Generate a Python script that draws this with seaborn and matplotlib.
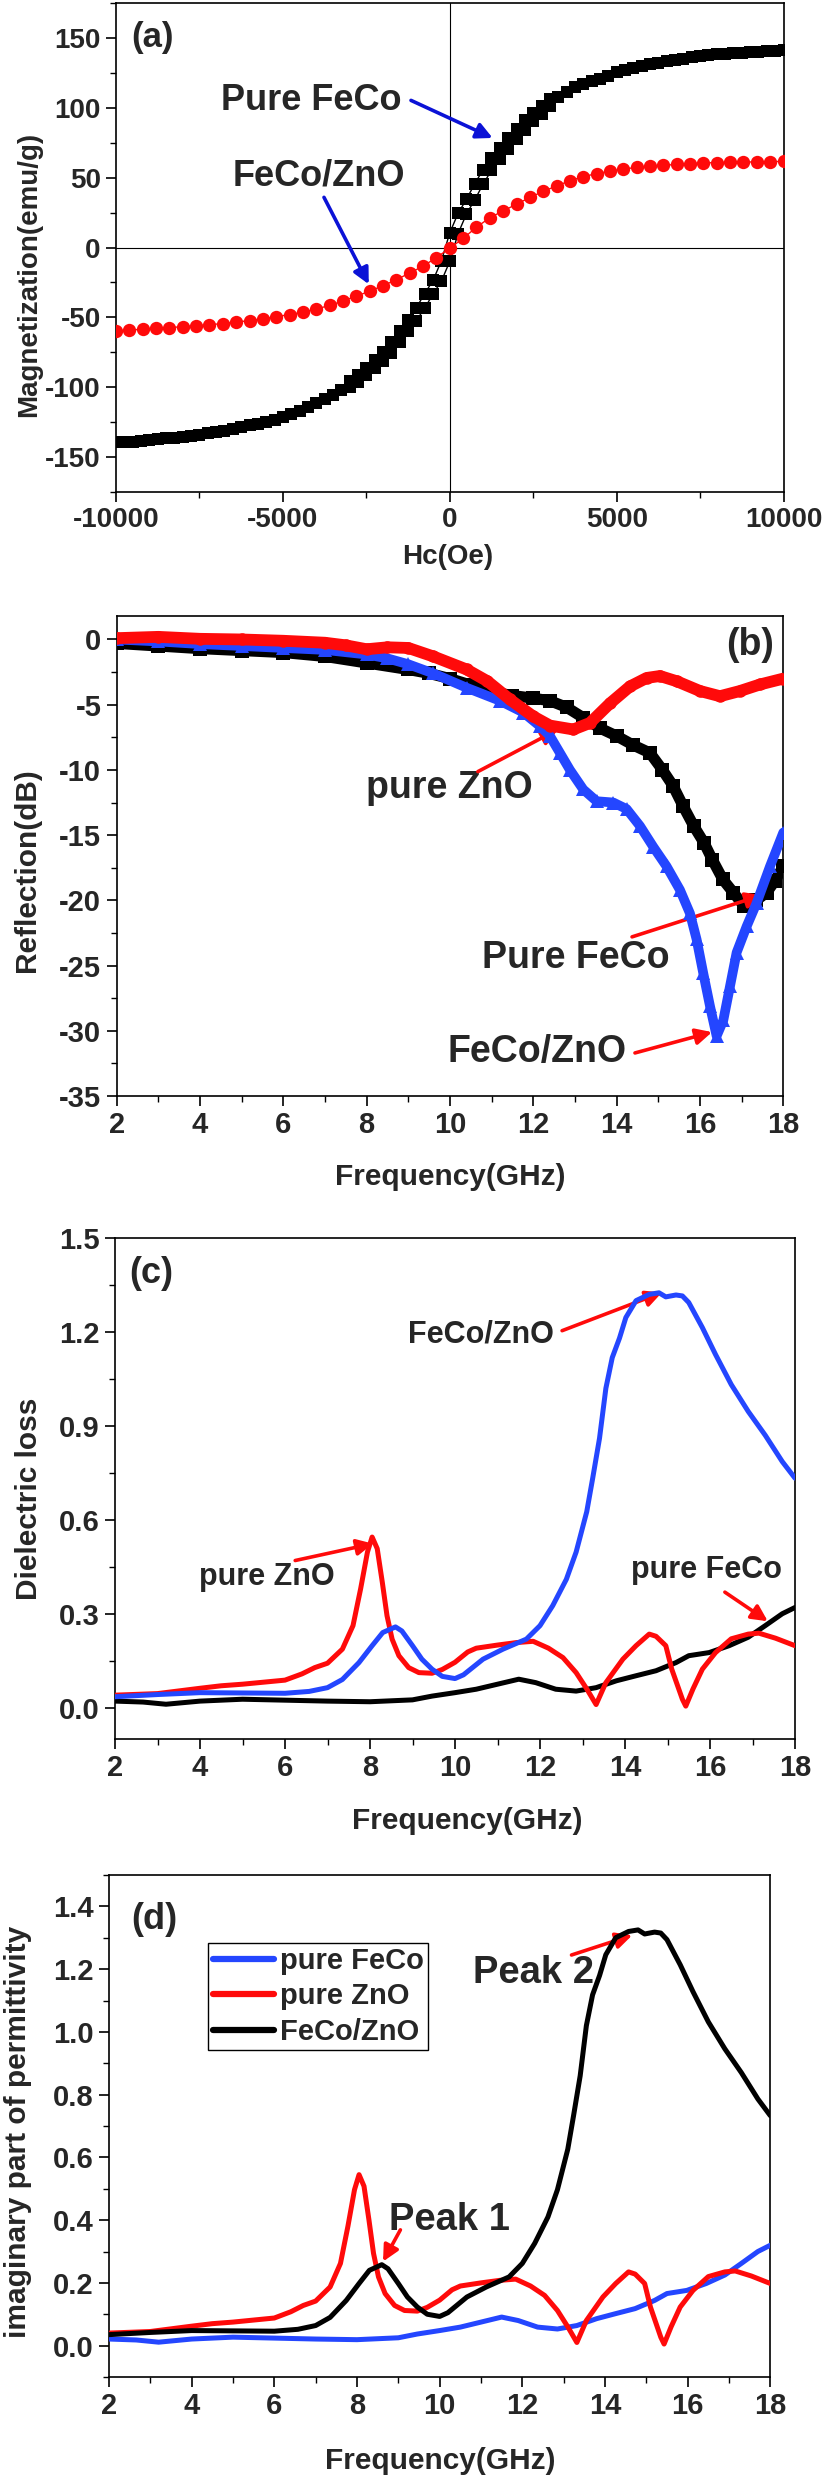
import numpy as np
import pandas as pd
import matplotlib
matplotlib.use("Agg")
import matplotlib.pyplot as plt
import seaborn as sns
from matplotlib.ticker import MultipleLocator, FormatStrFormatter

# ---------------------------------------------------------------- data
# (a) hysteresis loops
H_feco = [-10000, -9750, -9500, -9250, -9000, -8750, -8500, -8250, -8000, -7750,
          -7500, -7250, -7000, -6750, -6500, -6250, -6000, -5750, -5500, -5250,
          -5000, -4750, -4500, -4250, -4000, -3750, -3500, -3250,
          -3000, -2750, -2500, -2250, -2000, -1750, -1500, -1250, -1000, -750,
          -500, -250, 0, 250, 500, 750, 1000, 1250, 1500, 1750, 2000, 2250,
          2500, 2750, 3000,
          3250, 3500, 3750, 4000, 4250, 4500, 4750, 5000, 5250, 5500, 5750,
          6000, 6250, 6500, 6750, 7000, 7250, 7500, 7750, 8000, 8250, 8500,
          8750, 9000, 9250, 9500, 9750, 10000]
M_feco_far_neg = [-139.5, -139.2, -138.9, -138.5, -138.0, -137.4, -136.7, -136.1,
                  -135.5, -134.8, -134.0, -133.1, -132.2, -131.0, -129.9, -128.7,
                  -127.4, -126.0, -124.8, -123.2, -121.3, -119.4, -117.0, -114.3,
                  -111.5, -108.4, -105.5, -102.2]
M_feco_far_pos = [107.5, 111.5, 114.6, 117.0, 119.0, 120.9, 122.9, 125.3, 126.9,
                  128.2, 129.7, 131.2, 132.2, 133.2, 134.3, 135.2, 136.0, 136.8,
                  137.6, 138.2, 138.7, 139.1, 139.5, 139.8, 140.2, 140.5, 140.8,
                  141.1]
M_feco_mid_desc = [-95.8, -91.0, -86.0, -80.8, -75.0, -67.5, -59.5, -52.0, -43.0,
                   -33.0, -23.5, -9.5, 10.4, 24.5, 34.5, 45.7, 55.7, 63.9, 71.0,
                   78.1, 84.6, 90.9, 96.0, 101.3, 106.0]
M_feco_mid_asc = [-100.2, -96.0, -91.2, -86.2, -81.0, -75.3, -67.8, -59.8, -52.3,
                  -43.3, -33.3, -24.0, -10.0, 10.0, 24.0, 34.2, 45.3, 55.3, 63.6,
                  70.7, 77.8, 84.4, 90.7, 95.8, 101.1]

H_comp = [-10000, -9600, -9200, -8800, -8400, -8000, -7600, -7200, -6800, -6400,
          -6000, -5600, -5200, -4800, -4400, -4000, -3600, -3200, -2800, -2400,
          -2000, -1600, -1200, -800, -400, 0, 400, 800, 1200, 1600, 2000, 2400,
          2800, 3200, 3600, 4000, 4400, 4800, 5200, 5600, 6000, 6400, 6800, 7200,
          7600, 8000, 8400, 8800, 9200, 9600, 10000]
M_comp = [-59.6, -59.1, -58.5, -57.9, -57.3, -56.7, -56.0, -55.3, -54.4, -53.4,
          -52.3, -51.0, -49.5, -48.0, -46.2, -44.0, -41.5, -38.3, -34.8, -31.3,
          -27.3, -23.1, -18.2, -13.4, -7.2, -0.5, 6.5, 14.5, 21.3, 26.2, 31.0,
          35.8, 40.2, 44.0, 47.8, 50.7, 52.9, 54.7, 56.2, 57.3, 58.1, 58.8, 59.5,
          60.1, 60.5, 60.8, 60.9, 61.1, 61.3, 61.5, 61.6]

# (b) reflection loss
f_b_feco = [2, 3, 4, 5, 6, 7, 8, 9, 9.5, 10, 10.5, 11, 11.5, 12, 12.4, 12.8, 13.2,
            13.6, 14.0, 14.4, 14.8, 15.1, 15.35, 15.6, 15.85, 16.1, 16.3, 16.55,
            16.8, 17.05, 17.35, 17.6, 17.8, 18.0]
R_b_feco = [-0.3, -0.5, -0.7, -0.85, -1.0, -1.3, -1.8, -2.3, -2.6, -3.0, -3.5,
            -4.0, -4.3, -4.5, -4.7, -5.2, -6.0, -6.8, -7.4, -8.1, -8.7, -10.0,
            -11.2, -12.8, -14.3, -15.6, -16.9, -18.4, -19.4, -20.4, -20.0, -19.4,
            -18.5, -17.4]
f_b_comp = [2, 3, 4, 5, 6, 7, 8, 8.5, 9, 9.6, 10.4, 11.2, 11.76, 12.16, 12.4,
            12.64, 12.88, 13.2, 13.52, 13.92, 14.24, 14.56, 14.88, 15.2, 15.52,
            15.76, 15.92, 16.08, 16.24, 16.4, 16.56, 16.72, 16.88, 17.12, 17.36,
            17.68, 18.0]
R_b_comp = [0.0, -0.15, -0.35, -0.5, -0.65, -0.8, -1.15, -1.45, -1.9, -2.6, -3.7,
            -4.7, -5.6, -6.65, -7.4, -8.7, -10.0, -11.5, -12.4, -12.5, -13.0,
            -14.3, -15.9, -17.4, -19.2, -21.0, -23.0, -25.6, -28.1, -30.4, -29.2,
            -26.6, -24.0, -22.0, -20.2, -17.4, -14.8]
f_b_zno = [2, 3, 4, 5, 6, 7, 7.5, 8, 8.5, 9, 9.6, 10.4, 10.9, 11.44, 12.0, 12.4,
           12.96, 13.36, 13.84, 14.32, 14.72, 15.04, 15.44, 16.0, 16.48, 16.96,
           17.44, 18.0]
R_b_zno = [0.1, 0.2, 0.05, 0.0, -0.1, -0.25, -0.45, -0.75, -0.6, -0.65, -1.3,
           -2.3, -3.2, -4.6, -5.9, -6.6, -6.9, -6.4, -4.9, -3.6, -2.95, -2.8,
           -3.2, -3.95, -4.35, -3.95, -3.45, -3.0]

# (c)/(d) imaginary permittivity (dielectric loss)
f_eps_feco = [2.0, 2.66, 3.2, 4.0, 5.0, 6.0, 7.0, 8.0, 9.0, 9.46, 10.0, 10.5, 11.0,
              11.5, 11.9, 12.37, 12.85, 13.32, 13.8, 14.26, 14.73, 15.2, 15.5,
              15.98, 16.45, 16.9, 17.3, 17.7, 18.0]
eps_feco = [0.021, 0.018, 0.011, 0.021, 0.027, 0.024, 0.021, 0.019, 0.025, 0.037,
            0.048, 0.059, 0.075, 0.091, 0.08, 0.059, 0.053, 0.064, 0.086, 0.102,
            0.118, 0.144, 0.166, 0.176, 0.198, 0.225, 0.262, 0.30, 0.32]
f_eps_zno = [2.0, 3.0, 4.0, 4.5, 5.0, 6.0, 6.4, 6.7, 7.0, 7.35, 7.6, 7.78, 7.94,
             8.05, 8.17, 8.29, 8.4, 8.52, 8.68, 8.91, 9.15, 9.46, 9.7, 10.0, 10.3,
             10.5, 11.0, 11.45, 11.84, 12.2, 12.54, 12.85, 13.1, 13.32, 13.55,
             13.95, 14.26, 14.57, 14.73, 14.96, 15.1, 15.35, 15.43, 15.6, 15.82,
             16.13, 16.5, 16.9, 17.15, 17.54, 18.0]
eps_zno = [0.04, 0.045, 0.062, 0.07, 0.075, 0.088, 0.108, 0.128, 0.142, 0.187,
           0.262, 0.38, 0.497, 0.545, 0.508, 0.40, 0.294, 0.219, 0.166, 0.128,
           0.112, 0.11, 0.122, 0.145, 0.178, 0.19, 0.2, 0.208, 0.212, 0.19, 0.16,
           0.112, 0.06, 0.01, 0.08, 0.155, 0.198, 0.235, 0.228, 0.198, 0.123,
           0.027, 0.005, 0.06, 0.123, 0.176, 0.22, 0.235, 0.238, 0.222, 0.198]
f_eps_comp = [2.0, 3.0, 4.0, 5.0, 6.0, 6.57, 7.0, 7.35, 7.74, 8.05, 8.3, 8.6, 8.75,
              9.0, 9.22, 9.46, 9.7, 10.0, 10.2, 10.66, 11.13, 11.68, 12.0, 12.3,
              12.62, 12.85, 13.1, 13.24, 13.4, 13.55, 13.7, 13.87, 14.02, 14.26,
              14.57, 14.8, 14.96, 15.2, 15.35, 15.5, 15.82, 16.13, 16.5, 16.9,
              17.3, 17.7, 18.0]
eps_comp = [0.035, 0.042, 0.048, 0.047, 0.046, 0.052, 0.064, 0.09, 0.144, 0.198,
            0.24, 0.258, 0.245, 0.198, 0.155, 0.123, 0.10, 0.093, 0.105, 0.155,
            0.187, 0.219, 0.262, 0.326, 0.41, 0.497, 0.626, 0.733, 0.86, 1.02,
            1.118, 1.18, 1.246, 1.30, 1.32, 1.325, 1.312, 1.318, 1.315, 1.294,
            1.214, 1.128, 1.032, 0.946, 0.87, 0.786, 0.733]

# ---------------------------------------------------------------- style
sns.set_theme(style="ticks")
plt.rcParams['font.family'] = ['Liberation Sans', 'DejaVu Sans']
plt.rcParams['font.weight'] = 'bold'
plt.rcParams['axes.labelweight'] = 'bold'
plt.rcParams['axes.unicode_minus'] = False

RED = '#ff0a0a'
BLUE = '#2446ff'
ABLUE = '#0b12d6'

W, Hpx = 826, 2481
fig = plt.figure(figsize=(W / 100, Hpx / 100), dpi=100)


def rect(x0, x1, y0, y1):
    return [x0 / W, 1 - y1 / Hpx, (x1 - x0) / W, (y1 - y0) / Hpx]


axA = fig.add_axes(rect(116, 783.5, 3, 492))
axB = fig.add_axes(rect(116.6, 783.3, 616, 1096))
axC = fig.add_axes(rect(115, 795, 1238, 1739))
axD = fig.add_axes(rect(109, 770.3, 1875, 2377))


def style(ax, fs):
    for s in ax.spines.values():
        s.set_visible(True)
        s.set_linewidth(1.2)
        s.set_color('black')
    ax.tick_params(which='major', direction='out', length=7, width=1.2,
                   labelsize=fs, top=False, right=False, color='black')
    ax.tick_params(which='minor', direction='out', length=4, width=1.0,
                   top=False, right=False, color='black')
    ax.tick_params(axis='y', which='major', pad=4)
    ax.tick_params(axis='x', which='major', pad=4)
    ax.grid(False)
    ax.set_facecolor('white')


def labels(ax, xl, yl, fs, xc, yc):
    ax.set_xlabel(xl, fontsize=fs, fontweight='bold')
    ax.set_ylabel(yl, fontsize=fs, fontweight='bold')
    ax.xaxis.set_label_coords(*xc)
    ax.yaxis.set_label_coords(*yc)
    ax.xaxis.label.set_va('center')
    ax.yaxis.label.set_va('center')


def arrow(ax, start, tip, color, lw=2.6, ms=24):
    ax.annotate('', xy=tip, xytext=start,
                arrowprops=dict(arrowstyle='-|>', color=color, lw=lw,
                                mutation_scale=ms, shrinkA=0, shrinkB=0))


# ---------------------------------------------------------------- (a)
M_feco_desc = M_feco_far_neg + M_feco_mid_desc + M_feco_far_pos
M_feco_asc = M_feco_far_neg + M_feco_mid_asc + M_feco_far_pos
df_desc = pd.DataFrame({'H': H_feco, 'M': M_feco_desc})
df_asc = pd.DataFrame({'H': H_feco, 'M': M_feco_asc})
df_comp = pd.DataFrame({'H': H_comp, 'M': M_comp})

axA.axhline(0, color='black', lw=0.8, zorder=0)
axA.axvline(0, color='black', lw=0.8, zorder=0)
for d in (df_desc, df_asc):
    sns.lineplot(data=d, x='H', y='M', ax=axA, color='black', lw=1.0,
                 marker='s', markersize=8.4, markeredgewidth=0,
                 estimator=None, sort=False, zorder=3)
sns.lineplot(data=df_comp, x='H', y='M', ax=axA, color=RED, lw=1.0,
             marker='o', markersize=9.6, markeredgewidth=0,
             estimator=None, sort=False, zorder=4)
axA.set_xlim(-10000, 10000)
axA.set_ylim(-175, 175)
axA.xaxis.set_major_locator(MultipleLocator(5000))
axA.xaxis.set_minor_locator(MultipleLocator(2500))
axA.yaxis.set_major_locator(MultipleLocator(50))
axA.yaxis.set_minor_locator(MultipleLocator(25))
style(axA, 20)
labels(axA, 'Hc(Oe)', 'Magnetization(emu/g)', 20, (0.497, -0.133), (-0.130, 0.444))
axA.text(-9530, 150, '(a)', fontsize=25, fontweight='bold', ha='left', va='center')
axA.text(-4139, 105.3, 'Pure FeCo', fontsize=26, fontweight='bold', ha='center', va='center')
axA.text(-3926, 51.5, 'FeCo/ZnO', fontsize=26, fontweight='bold', ha='center', va='center')
arrow(axA, (-1161, 105.3), (1284, 78.4), ABLUE)
arrow(axA, (-3768, 35.9), (-2426, -26.3), ABLUE)

# ---------------------------------------------------------------- (b)
dB_feco = pd.DataFrame({'f': f_b_feco, 'R': R_b_feco})
dB_comp = pd.DataFrame({'f': f_b_comp, 'R': R_b_comp})
dB_zno = pd.DataFrame({'f': f_b_zno, 'R': R_b_zno})
sns.lineplot(data=dB_feco, x='f', y='R', ax=axB, color='black', lw=8,
             marker='s', markersize=10, markeredgewidth=0,
             estimator=None, sort=False, zorder=3)
sns.lineplot(data=dB_comp, x='f', y='R', ax=axB, color=BLUE, lw=7,
             marker='^', markersize=10, markeredgewidth=0,
             estimator=None, sort=False, zorder=4)
sns.lineplot(data=dB_zno, x='f', y='R', ax=axB, color=RED, lw=8.5,
             marker='o', markersize=9, markeredgewidth=0,
             estimator=None, sort=False, zorder=5)
axB.set_xlim(2, 18)
axB.set_ylim(-35, 1.8)
axB.xaxis.set_major_locator(MultipleLocator(2))
axB.xaxis.set_minor_locator(MultipleLocator(1))
axB.yaxis.set_major_locator(MultipleLocator(5))
axB.yaxis.set_minor_locator(MultipleLocator(2.5))
style(axB, 21)
labels(axB, 'Frequency(GHz)', 'Reflection(dB)', 21.5, (0.5008, -0.169), (-0.135, 0.471))
axB.text(17.2, -0.46, '(b)', fontsize=27, fontweight='bold', ha='center', va='center')
axB.text(9.98, -11.36, 'pure ZnO', fontsize=27, fontweight='bold', ha='center', va='center')
axB.text(13.02, -24.4, 'Pure FeCo', fontsize=27, fontweight='bold', ha='center', va='center')
axB.text(12.08, -31.6, 'FeCo/ZnO', fontsize=27, fontweight='bold', ha='center', va='center')
arrow(axB, (10.67, -10.13), (12.59, -6.9), RED)
arrow(axB, (14.37, -22.8), (17.49, -19.6), RED)
arrow(axB, (14.44, -31.7), (16.29, -30.1), RED)

# ---------------------------------------------------------------- (c)
de_feco = pd.DataFrame({'f': f_eps_feco, 'e': eps_feco})
de_zno = pd.DataFrame({'f': f_eps_zno, 'e': eps_zno})
de_comp = pd.DataFrame({'f': f_eps_comp, 'e': eps_comp})
sns.lineplot(data=de_feco, x='f', y='e', ax=axC, color='black', lw=3.6,
             estimator=None, sort=False, zorder=3)
sns.lineplot(data=de_zno, x='f', y='e', ax=axC, color=RED, lw=3.6,
             estimator=None, sort=False, zorder=4)
sns.lineplot(data=de_comp, x='f', y='e', ax=axC, color=BLUE, lw=3.6,
             estimator=None, sort=False, zorder=5)
axC.set_xlim(2, 18)
axC.set_ylim(-0.1, 1.5)
axC.xaxis.set_major_locator(MultipleLocator(2))
axC.xaxis.set_minor_locator(MultipleLocator(1))
axC.yaxis.set_major_locator(MultipleLocator(0.3))
axC.yaxis.set_minor_locator(MultipleLocator(0.15))
axC.yaxis.set_major_formatter(FormatStrFormatter('%.1f'))
style(axC, 21)
labels(axC, 'Frequency(GHz)', 'Dielectric loss', 21.5, (0.518, -0.164), (-0.127, 0.479))
axC.text(2.33, 1.388, '(c)', fontsize=26, fontweight='bold', ha='left', va='center')
axC.text(10.6, 1.193, 'FeCo/ZnO', fontsize=22, fontweight='bold', ha='center', va='center')
axC.text(5.58, 0.418, 'pure ZnO', fontsize=22, fontweight='bold', ha='center', va='center')
axC.text(15.92, 0.44, 'pure FeCo', fontsize=22, fontweight='bold', ha='center', va='center')
arrow(axC, (12.52, 1.204), (14.87, 1.326), RED)
arrow(axC, (6.24, 0.470), (8.07, 0.524), RED)
arrow(axC, (16.35, 0.369), (17.36, 0.276), RED)

# ---------------------------------------------------------------- (d)
sns.lineplot(data=de_feco, x='f', y='e', ax=axD, color=BLUE, lw=3.6,
             estimator=None, sort=False, zorder=3, label='pure FeCo')
sns.lineplot(data=de_zno, x='f', y='e', ax=axD, color=RED, lw=3.6,
             estimator=None, sort=False, zorder=4, label='pure ZnO')
sns.lineplot(data=de_comp, x='f', y='e', ax=axD, color='black', lw=3.6,
             estimator=None, sort=False, zorder=5, label='FeCo/ZnO')
axD.set_xlim(2, 18)
axD.set_ylim(-0.1, 1.5)
axD.xaxis.set_major_locator(MultipleLocator(2))
axD.xaxis.set_minor_locator(MultipleLocator(1))
axD.yaxis.set_major_locator(MultipleLocator(0.2))
axD.yaxis.set_minor_locator(MultipleLocator(0.1))
axD.yaxis.set_major_formatter(FormatStrFormatter('%.1f'))
style(axD, 21)
labels(axD, 'Frequency(GHz)', 'imaginary part of permittivity', 21.5,
       (0.501, -0.167), (-0.137, 0.489))
axD.text(2.53, 1.358, '(d)', fontsize=26, fontweight='bold', ha='left', va='center')
axD.text(12.27, 1.188, 'Peak 2', fontsize=27.5, fontweight='bold', ha='center', va='center')
axD.text(10.25, 0.40, 'Peak 1', fontsize=27.5, fontweight='bold', ha='center', va='center')
arrow(axD, (13.19, 1.245), (14.66, 1.308), RED)
arrow(axD, (9.05, 0.369), (8.63, 0.268), RED)
leg = axD.legend(loc='upper left', bbox_to_anchor=(0.15, 0.865), frameon=True,
                 fancybox=False, edgecolor='black', framealpha=1,
                 prop={'weight': 'bold', 'size': 21}, handlelength=2.1,
                 handletextpad=0.2, borderpad=0.15, labelspacing=0.25,
                 borderaxespad=0)
leg.get_frame().set_linewidth(1.0)
for ln in leg.get_lines():
    ln.set_linewidth(4.5)

fig.savefig('out.png', dpi=100, facecolor='white')
